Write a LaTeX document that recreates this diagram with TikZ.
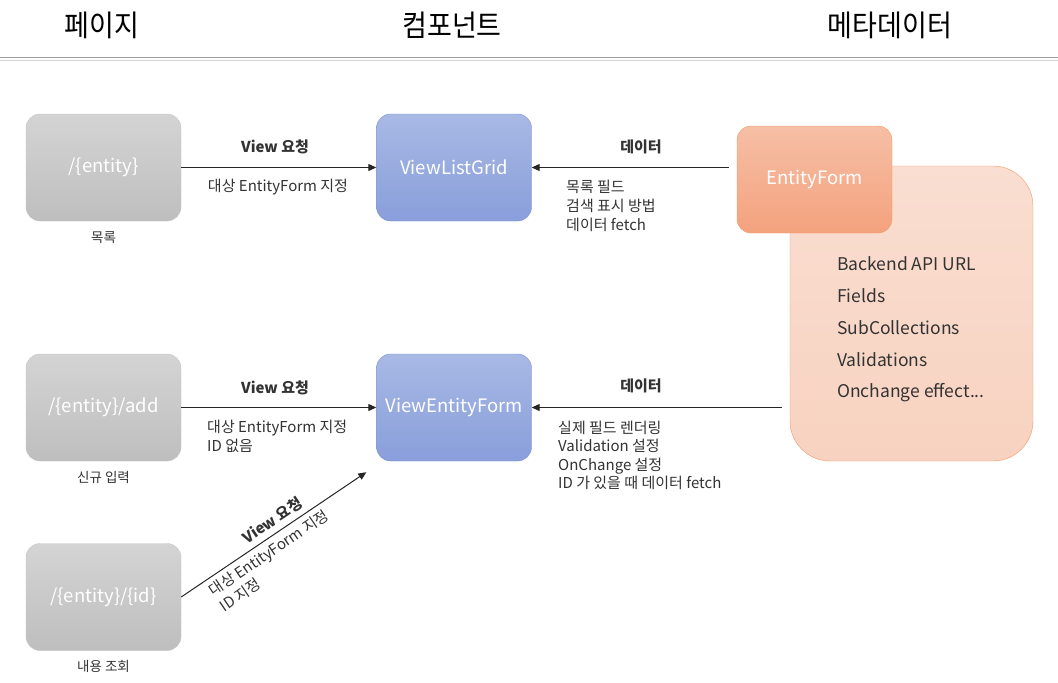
\documentclass[tikz,border=0pt]{standalone}
\usepackage{fontspec}
\setmainfont{Noto Sans CJK KR}
\usetikzlibrary{arrows.meta}
\definecolor{gtop}{HTML}{D4D4D4}
\definecolor{gbot}{HTML}{BEBEBE}
\definecolor{gbrd}{HTML}{C6C6C6}
\definecolor{btop}{HTML}{A8B9E4}
\definecolor{bbot}{HTML}{899EDB}
\definecolor{bbrd}{HTML}{7D94D4}
\definecolor{otop}{HTML}{F6BFA5}
\definecolor{obot}{HTML}{F4A27E}
\definecolor{obrd}{HTML}{F19A68}
\definecolor{ptop}{HTML}{F9DED1}
\definecolor{pbot}{HTML}{F8D2C0}
\definecolor{txt}{HTML}{333333}
\tikzset{
  box/.style={rounded corners=14pt, minimum width=155pt, minimum height=107pt, inner sep=0pt, text=white, font=\fontsize{18.5}{20}\selectfont},
  page/.style={box, draw=gbrd, top color=gtop, bottom color=gbot},
  comp/.style={box, draw=bbrd, top color=btop, bottom color=bbot},
  meta/.style={box, draw=obrd, top color=otop, bottom color=obot},
  capt/.style={text=txt, font=\fontsize{13.5}{15}\selectfont, inner sep=0pt},
  lbl/.style={text=txt, font=\fontsize{15}{19}\selectfont, inner sep=0pt, align=left},
  blbl/.style={text=txt, font=\fontsize{15}{19}\selectfont\bfseries, inner sep=0pt},
  head/.style={text=black, font=\fontsize{27}{30}\selectfont, inner sep=0pt, yscale=1.1},
  item/.style={text=txt, font=\fontsize{17.5}{20}\selectfont, inner sep=0pt, anchor=west},
  arr/.style={draw=black!85, line width=1pt, -{Triangle[length=8pt,width=7pt]}}
}
\begin{document}
\begin{tikzpicture}[x=1pt,y=-1pt]
\useasboundingbox (0,0) rectangle (1058,683);
\fill[white] (0,0) rectangle (1058,683);
% headers
\node[head] (h1) at (102,25) {페이지};
\node[head] (h2) at (452,25) {컴포넌트};
\node[head] (h3) at (890,25) {메타데이터};
\draw[gray!75, line width=1.8pt] (0,57.5) -- (1058,57.5);
\draw[gray!35, line width=1pt] (0,60.5) -- (1058,60.5);
% peach metadata box
\node[draw=obrd, rounded corners=40pt, top color=ptop, bottom color=pbot, minimum width=243pt, minimum height=295pt, inner sep=0pt] (mb) at (911.5,313.5) {};
\node[item] (i1) at (837,264) {Backend API URL};
\node[item] (i2) at (837,296) {Fields};
\node[item] (i3) at (837,328) {SubCollections};
\node[item] (i4) at (837,360) {Validations};
\node[item] (i5) at (837,393) {Onchange effect...};
% nodes
\node[page] (p1) at (103.5,167.5) {/\{entity\}};
\node[page] (p2) at (103.5,407.5) {/\{entity\}/add};
\node[page] (p3) at (103.5,597) {/\{entity\}/\{id\}};
\node[capt] (c1) at (103.5,238) {목록};
\node[capt] (c2) at (103.5,477) {신규 입력};
\node[capt] (c3) at (103.5,666) {내용 조회};
\node[comp] (vlg) at (454,167.5) {ViewListGrid};
\node[comp] (vef) at (454,407.5) {ViewEntityForm};
\node[meta] (ef) at (814.5,179.5) {EntityForm};
% arrows row 1
\draw[arr] (p1.east) -- (vlg.west);
\node[blbl] (l1a) at (275,147) {View 요청};
\node[lbl] (l1b) at (278,187) {대상 EntityForm 지정};
\draw[arr] ([xshift=-8pt]ef.west |- vlg.east) -- (vlg.east);
\node[blbl] (d1a) at (641,147) {데이터};
\node[lbl, anchor=north west] (d1b) at (566,180) {목록 필드\\검색 표시 방법\\데이터 fetch};
% arrows row 2
\draw[arr] (p2.east) -- (vef.west);
\node[blbl] (l2a) at (275,388) {View 요청};
\node[lbl, anchor=north west] (l2b) at (207,420) {대상 EntityForm 지정\\ID 없음};
\draw[arr] ([xshift=-8pt]mb.west |- vef.east) -- (vef.east);
\node[blbl] (d2a) at (641,386) {데이터};
\node[lbl, anchor=north west, font=\fontsize{15}{18.3}\selectfont] (d2b) at (558,421) {실제 필드 렌더링\\Validation 설정\\OnChange 설정\\ID 가 있을 때 데이터 fetch};
% diagonal arrow
\coordinate (tg) at ([xshift=-10pt,yshift=-11pt]vef.south west);
\draw[arr] (p3.east) -- (tg)
  node[blbl, sloped, pos=0.53, above=5pt] (l3a) {View 요청}
  node[lbl, sloped, pos=0.12, anchor=north west, yshift=-5pt] (l3b) {대상 EntityForm 지정\\ID 지정};
\end{tikzpicture}
\end{document}
